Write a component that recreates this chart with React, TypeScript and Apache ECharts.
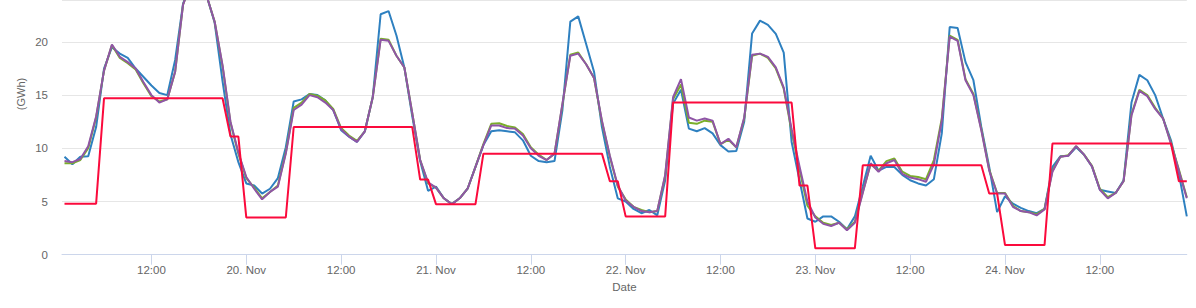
import React, { useEffect, useRef } from "react";
import * as echarts from "echarts";

// Hourly timestamps start at 19 Nov 01:00 (UTC)
const START_UTC = Date.UTC(2018, 10, 19, 1, 0);
const AXIS_MIN = Date.UTC(2018, 10, 19, 0, 41);
const AXIS_MAX = Date.UTC(2018, 10, 24, 23, 0);

const blueValues = [
  9.2, 8.5, 9.2, 9.25, 12.0, 17.5, 19.5, 18.9, 18.5, 17.5,
  16.7, 15.9, 15.2, 15.0, 18.3, 23.6, 25.5, 25.8, 24.3, 21.8,
  16.3, 11.3, 8.7, 6.7, 6.5, 5.75, 6.2, 7.2, 10.1, 14.4,
  14.6, 15.1, 15.0, 14.5, 13.6, 11.7, 11.1, 10.6, 11.6, 14.8,
  22.6, 22.9, 20.6, 17.6, 13.0, 8.8, 6.0, 6.4, 5.3, 4.75,
  5.3, 6.2, 8.25, 10.3, 11.6, 11.7, 11.6, 11.5, 10.75, 9.3,
  8.8, 8.7, 8.8, 13.6, 21.9, 22.4, 19.8, 17.2, 12.0, 8.25,
  5.3, 5.0, 4.3, 3.9, 4.2, 3.7, 7.0, 14.2, 15.5, 11.85,
  11.6, 11.9, 11.4, 10.3, 9.7, 9.75, 12.5, 20.8, 22.0, 21.6,
  20.75, 19.0, 10.6, 7.0, 3.4, 3.1, 3.6, 3.6, 3.1, 2.4,
  3.6, 6.4, 9.3, 7.9, 8.25, 8.25, 7.5, 7.0, 6.7, 6.5,
  7.1, 11.4, 21.4, 21.3, 18.1, 16.4, 12.0, 8.25, 4.0, 5.5,
  4.8, 4.4, 4.1, 3.9, 4.3, 8.25, 9.25, 9.3, 10.1, 9.4,
  8.3, 6.1, 5.95, 5.8, 7.0, 14.3, 16.9, 16.4, 15.0, 12.8,
  10.75, 7.6, 3.6,
];

const greenValues = [
  8.6, 8.6, 8.9, 10.0, 12.9, 17.3, 19.7, 18.5, 18.0, 17.4,
  16.1, 14.9, 14.4, 14.6, 17.2, 23.5, 25.5, 25.8, 24.3, 21.9,
  17.7, 12.4, 9.5, 7.2, 6.3, 5.3, 5.9, 6.5, 9.6, 13.8,
  14.3, 15.1, 14.95, 14.5, 13.7, 11.9, 11.2, 10.7, 11.6, 14.8,
  20.3, 20.2, 18.7, 17.6, 13.3, 8.9, 6.7, 6.3, 5.3, 4.75,
  5.3, 6.2, 8.25, 10.4, 12.3, 12.35, 12.1, 11.95, 11.35, 10.1,
  9.4, 8.9, 9.5, 14.1, 18.8, 19.0, 17.9, 16.6, 12.5, 9.2,
  6.4, 5.2, 4.5, 4.2, 4.0, 4.1, 7.4, 14.6, 16.0, 12.4,
  12.3, 12.6, 12.5, 10.4, 10.8, 10.1, 12.8, 18.7, 18.9, 18.5,
  17.5, 15.6, 11.6, 8.0, 4.6, 3.6, 3.0, 2.8, 3.0, 2.4,
  3.1, 5.9, 8.5, 7.9, 8.8, 9.05, 7.8, 7.4, 7.3, 7.1,
  8.9, 12.8, 20.6, 20.2, 16.5, 15.1, 11.8, 8.0, 5.8, 5.8,
  4.6, 4.1, 4.0, 3.8, 4.3, 7.9, 9.2, 9.35, 10.2, 9.4,
  8.35, 6.2, 5.4, 5.8, 6.9, 13.2, 15.5, 15.0, 13.8, 12.8,
  10.5, 8.0, 5.4,
];

const purpleValues = [
  8.8, 8.7, 9.0, 10.2, 13.0, 17.3, 19.75, 18.6, 18.1, 17.5,
  16.2, 15.0, 14.3, 14.6, 17.2, 23.5, 25.5, 25.8, 24.3, 21.9,
  17.8, 12.5, 9.6, 7.3, 6.2, 5.2, 5.9, 6.4, 9.5, 13.6,
  14.1, 15.0, 14.8, 14.3, 13.6, 11.8, 11.1, 10.6, 11.6, 14.8,
  20.2, 20.1, 18.7, 17.6, 13.3, 8.9, 6.8, 6.3, 5.3, 4.75,
  5.3, 6.2, 8.25, 10.3, 12.15, 12.15, 11.9, 11.85, 11.2, 10.0,
  9.3, 8.9, 9.5, 14.2, 18.7, 18.9, 17.9, 16.6, 12.6, 9.3,
  6.5, 5.1, 4.5, 4.1, 4.0, 4.1, 7.5, 14.8, 16.5, 12.9,
  12.6, 12.8, 12.6, 10.4, 10.9, 10.1, 12.9, 18.8, 18.9, 18.6,
  17.6, 15.7, 11.8, 8.3, 5.0, 3.5, 2.9, 2.7, 3.0, 2.3,
  3.0, 5.8, 8.6, 7.8, 8.6, 8.9, 7.6, 7.25, 7.1, 6.85,
  8.5, 12.6, 20.5, 20.1, 16.4, 15.0, 11.7, 7.9, 5.75, 5.75,
  4.5, 4.1, 4.0, 3.7, 4.25, 7.8, 9.2, 9.3, 10.2, 9.4,
  8.3, 6.1, 5.3, 5.8, 6.9, 13.1, 15.4, 14.9, 13.7, 12.8,
  10.4, 7.9, 5.3,
];

const redValues = [
  4.8, 4.8, 4.8, 4.8, 4.8,
  14.7, 14.7, 14.7, 14.7, 14.7, 14.7, 14.7, 14.7, 14.7, 14.7, 14.7, 14.7, 14.7, 14.7, 14.7, 14.7,
  11.1, 11.1,
  3.5, 3.5, 3.5, 3.5, 3.5, 3.5,
  12.0, 12.0, 12.0, 12.0, 12.0, 12.0, 12.0, 12.0, 12.0, 12.0, 12.0, 12.0, 12.0, 12.0, 12.0, 12.0,
  7.06, 7.06,
  4.75, 4.75, 4.75, 4.75, 4.75, 4.75,
  9.5, 9.5, 9.5, 9.5, 9.5, 9.5, 9.5, 9.5, 9.5, 9.5, 9.5, 9.5, 9.5, 9.5, 9.5, 9.5,
  6.9, 6.9,
  3.6, 3.6, 3.6, 3.6, 3.6, 3.6,
  14.3, 14.3, 14.3, 14.3, 14.3, 14.3, 14.3, 14.3, 14.3, 14.3, 14.3, 14.3, 14.3, 14.3, 14.3, 14.3,
  6.5, 6.5,
  0.6, 0.6, 0.6, 0.6, 0.6, 0.6,
  8.4, 8.4, 8.4, 8.4, 8.4, 8.4, 8.4, 8.4, 8.4, 8.4, 8.4, 8.4, 8.4, 8.4, 8.4, 8.4,
  5.75, 5.75,
  0.9, 0.9, 0.9, 0.9, 0.9, 0.9,
  10.45, 10.45, 10.45, 10.45, 10.45, 10.45, 10.45, 10.45, 10.45, 10.45, 10.45, 10.45, 10.45, 10.45, 10.45, 10.45,
  6.9, 6.9,
];

const seriesDefs = [
  { name: "Series A", color: "#2e80c0", values: blueValues },
  { name: "Series B", color: "#7aae2a", values: greenValues },
  { name: "Series C", color: "#8f55a6", values: purpleValues },
  { name: "Series D", color: "#fb0a3c", values: redValues },
];

const FONT = "'Liberation Sans', Arial, sans-serif";

function toPairs(values: number[]) {
  return values.map((v, i) => [START_UTC + i * 3600000, v]);
}

export default function App() {
  const ref = useRef<HTMLDivElement>(null);
  useEffect(() => {
    if (!ref.current) return;
    const chart = echarts.init(ref.current, null, { renderer: "svg" });
    const pad = (n: number) => (n < 10 ? "0" + n : "" + n);
    chart.setOption({
      animation: false,
      useUTC: true,
      textStyle: { fontFamily: FONT },
      grid: { left: 62, right: 9.2, top: 0, bottom: 53.3, containLabel: false },
      graphic: [
        {
          type: "text",
          x: 21,
          y: 94,
          rotation: Math.PI / 2,
          style: {
            text: "(GWh)",
            fill: "#666666",
            font: "11px 'Liberation Sans', Arial, sans-serif",
            align: "center",
            verticalAlign: "middle",
          },
        },
      ],
      xAxis: {
        type: "time",
        min: AXIS_MIN,
        max: AXIS_MAX,
        minInterval: 12.5 * 3600000,
        maxInterval: 13 * 3600000,
        splitNumber: 11,
        name: "Date",
        nameLocation: "middle",
        nameGap: 26,
        nameTextStyle: { color: "#666666", fontSize: 11.5, fontFamily: FONT },
        axisLine: { show: true, lineStyle: { color: "#ccd6eb", width: 1 } },
        axisTick: { show: true, length: 10, lineStyle: { color: "#ccd6eb" } },
        minorTick: { show: false },
        splitLine: { show: false },
        axisLabel: {
          color: "#666666",
          fontSize: 11.5,
          fontFamily: FONT,
          margin: 9,
          hideOverlap: false,
          formatter: (val: number) => {
            const d = new Date(val);
            const h = d.getUTCHours();
            if (h === 0 && d.getUTCMinutes() === 0) return d.getUTCDate() + ". Nov";
            return pad(h) + ":" + pad(d.getUTCMinutes());
          },
        },
      },
      yAxis: {
        type: "value",
        min: 0,
        max: 23.94,
        interval: 5,
        axisLine: { show: false },
        axisTick: { show: false },
        splitLine: { show: true, lineStyle: { color: "#e6e6e6", width: 1 } },
        axisLabel: {
          color: "#666666",
          fontSize: 11.5,
          fontFamily: FONT,
          margin: 14,
          showMaxLabel: false,
        },
      },
      series: seriesDefs.map((s) => ({
        name: s.name,
        type: "line",
        data: toPairs(s.values),
        showSymbol: false,
        symbol: "none",
        clip: true,
        lineStyle: { color: s.color, width: 2 },
        itemStyle: { color: s.color },
      })),
    });
    return () => chart.dispose();
  }, []);
  return (
    <div
      ref={ref}
      style={{ position: "fixed", left: 0, top: 0, width: 1196, height: 308, background: "#ffffff" }}
    />
  );
}
